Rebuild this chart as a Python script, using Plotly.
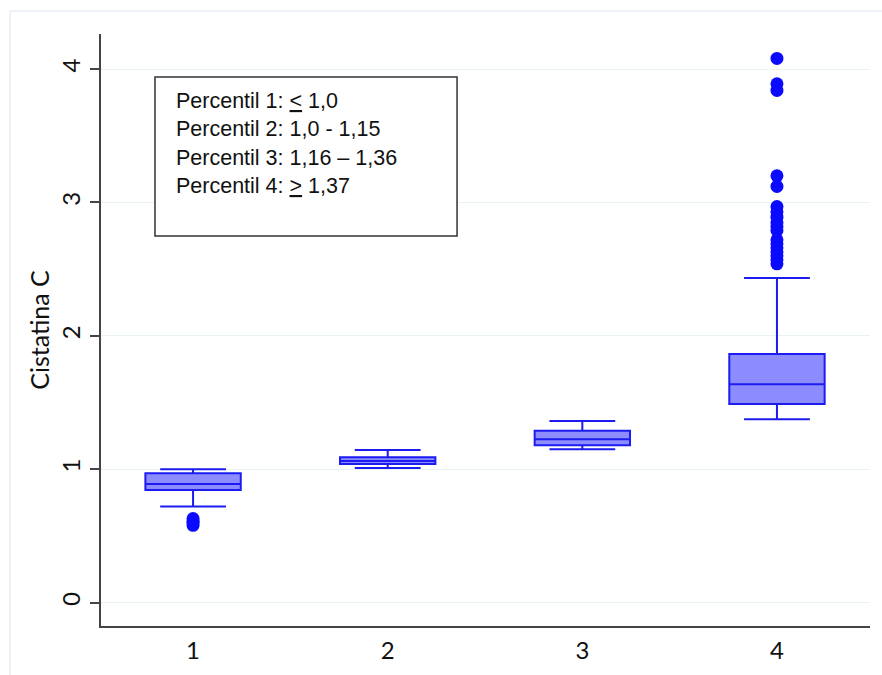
import plotly.graph_objects as go

# Cystatin C distribution by percentile group
groups = [1, 2, 3, 4]
lower_whisker = [0.72, 1.01, 1.15, 1.375]
q1_vals = [0.845, 1.04, 1.18, 1.49]
median_vals = [0.89, 1.062, 1.225, 1.637]
q3_vals = [0.97, 1.09, 1.289, 1.864]
upper_whisker = [1.0, 1.145, 1.362, 2.434]

outliers_g1 = [0.58, 0.60, 0.61, 0.63]
outliers_g4 = [4.08, 3.89, 3.84, 3.20, 3.12, 2.97, 2.93, 2.89, 2.85, 2.82,
               2.79, 2.72, 2.69, 2.66, 2.63, 2.60, 2.57, 2.54]

legend_lines = [
    "Percentil 1: <u>&lt;</u> 1,0",
    "Percentil 2: 1,0 - 1,15",
    "Percentil 3: 1,16 – 1,36",
    "Percentil 4: <u>&gt;</u> 1,37",
]

y_ticks = [0, 1, 2, 3, 4]

BLUE = "#1c1cf0"
FILL = "rgba(128,128,255,0.9)"

fig = go.Figure()

fig.add_trace(go.Box(
    x=groups,
    q1=q1_vals,
    median=median_vals,
    q3=q3_vals,
    lowerfence=lower_whisker,
    upperfence=upper_whisker,
    width=0.49,
    whiskerwidth=0.69,
    line=dict(color=BLUE, width=2),
    fillcolor=FILL,
    boxpoints=False,
    hoverinfo="skip",
    showlegend=False,
))

out_x = [1] * len(outliers_g1) + [4] * len(outliers_g4)
out_y = outliers_g1 + outliers_g4
fig.add_trace(go.Scatter(
    x=out_x, y=out_y, mode="markers",
    marker=dict(color="#0a0aff", size=13, line=dict(width=0)),
    showlegend=False, hoverinfo="skip",
))

# key box with percentile cut-offs
fig.add_shape(type="rect", xref="paper", yref="paper",
              x0=0.0702, x1=0.463, y0=0.6588, y1=0.9274,
              line=dict(color="#333333", width=1.5), fillcolor="white", layer="above")

line_centers_px = [101.3, 129.3, 157.9, 185.9]
for txt, ypx in zip(legend_lines, line_centers_px):
    fig.add_annotation(
        xref="paper", yref="paper",
        x=(174 - 101) / 769, y=(626 - ypx) / 592,
        xanchor="left", yanchor="middle",
        text=txt, showarrow=False,
        font=dict(family="Liberation Sans, Arial", size=21.5, color="#111111"),
    )

# faint outer frame of the graph region
fig.add_shape(type="rect", xref="paper", yref="paper",
              x0=(10 - 101) / 769, x1=1.2, y0=-0.2, y1=(626 - 11) / 592,
              line=dict(color="#e6eef6", width=1.5), layer="below")

fig.update_layout(
    width=882, height=675,
    margin=dict(l=101, r=12, t=34, b=49, autoexpand=False),
    paper_bgcolor="white",
    plot_bgcolor="white",
    font=dict(family="Lato, Liberation Sans", color="#111111"),
    xaxis=dict(
        range=[0.527, 4.478],
        automargin=False,
        tickmode="array", tickvals=groups, ticktext=[str(g) for g in groups],
        showgrid=False, zeroline=False,
        showline=True, linecolor="#444444", linewidth=2,
        ticks="outside", ticklen=2, tickcolor="rgba(0,0,0,0)",
        tickfont=dict(size=24, family="Lato"),
    ),
    yaxis=dict(
        range=[-0.175, 4.263],
        automargin=False,
        tickmode="array", tickvals=y_ticks, ticktext=[str(v) for v in y_ticks],
        tickangle=-90,
        showgrid=True, gridcolor="#eaf3f3", gridwidth=1,
        zeroline=False,
        showline=True, linecolor="#444444", linewidth=2,
        ticks="outside", ticklen=9, tickcolor="#444444", tickwidth=1.5,
        tickfont=dict(size=24, family="Lato"),
        title=dict(text="Cistatina C", font=dict(size=25, family="Lato"), standoff=0),
    ),
)

fig.write_html("out.html")
